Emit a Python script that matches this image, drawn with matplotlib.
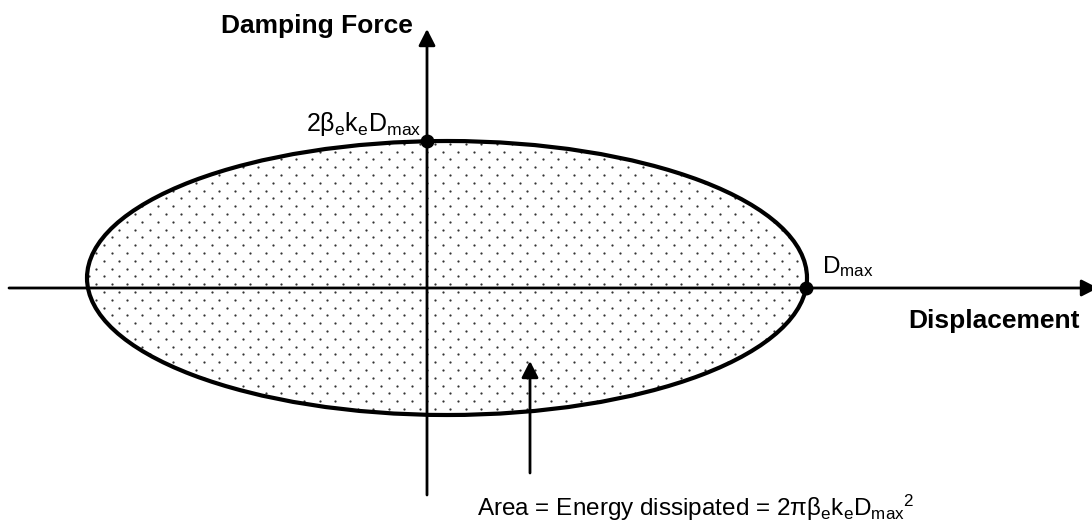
import numpy as np
import matplotlib
matplotlib.use("Agg")
import matplotlib.pyplot as plt
from matplotlib.patches import Ellipse

plt.rcParams['font.family'] = ['Liberation Sans', 'DejaVu Sans']
plt.rcParams['mathtext.fontset'] = 'custom'
plt.rcParams['mathtext.rm'] = 'Liberation Sans'
plt.rcParams['mathtext.it'] = 'Liberation Sans:italic'
plt.rcParams['mathtext.bf'] = 'Liberation Sans:bold'

# hysteresis loop (units: pixels of the original sketch, origin at the axes crossing)
loop_center = (20, 10)
loop_half_width = 360
loop_half_height = 137

# axis extents
x_axis = (-418, 671)
y_axis = (-207, 259)

# annotation arrow (tail, tip)
area_arrow_x = 103
area_arrow_y = (-185, -73)

# labels
y_label = "Damping Force"
x_label = "Displacement"
force_label = r"2β$_\mathregular{e}$k$_\mathregular{e}$D$_\mathregular{max}$"
dmax_label = r"D$_\mathregular{max}$"
area_label = (r"Area = Energy dissipated = 2πβ$_\mathregular{e}$k$_\mathregular{e}$"
              r"D$_\mathregular{max}$$^\mathregular{2}$")

# where the loop crosses the axes
cx, cy = loop_center
d_max = cx + loop_half_width * np.sqrt(1 - (cy / loop_half_height) ** 2)
f_top = cy + loop_half_height * np.sqrt(1 - (cx / loop_half_width) ** 2)

fig = plt.figure(figsize=(10.92, 5.25), dpi=100)
ax = fig.add_axes([0, 0, 1, 1])
ax.set_xlim(-427, 665)
ax.set_ylim(-237, 288)
ax.axis('off')

# dotted fill of the loop
fill = Ellipse(loop_center, 2 * loop_half_width, 2 * loop_half_height,
               facecolor='white', edgecolor='none', zorder=1)
ax.add_patch(fill)
gx = np.arange(-400, 420, 15.4)
gy = np.arange(-160, 170, 7.8)
px, py = [], []
for j, yy in enumerate(gy):
    shift = 7.7 if j % 2 else 0
    px.extend(gx + shift)
    py.extend([yy] * len(gx))
dots = ax.scatter(px, py, s=2.6, color='#333333', linewidths=0, zorder=2)
dots.set_clip_path(fill)

# axes with arrow heads
arrow_kw = dict(arrowstyle='-|>,head_length=0.55,head_width=0.28', color='black',
                lw=2.0, mutation_scale=18, shrinkA=0, shrinkB=0)
ax.annotate('', xy=(x_axis[1], 0), xytext=(x_axis[0], 0),
            arrowprops=arrow_kw, annotation_clip=False, zorder=3)
ax.annotate('', xy=(0, y_axis[1]), xytext=(0, y_axis[0]),
            arrowprops=arrow_kw, annotation_clip=False, zorder=3)
ax.annotate('', xy=(area_arrow_x, area_arrow_y[1]), xytext=(area_arrow_x, area_arrow_y[0]),
            arrowprops=arrow_kw, annotation_clip=False, zorder=3)

# loop outline
ax.add_patch(Ellipse(loop_center, 2 * loop_half_width, 2 * loop_half_height,
                     facecolor='none', edgecolor='black', lw=3.0, zorder=4))

ax.plot([d_max, 0], [0, f_top], 'o', color='black', markersize=9, zorder=5)

ax.text(-14, 255, y_label, fontsize=19, fontweight='bold', ha='right', va='baseline')
ax.text(481, -40, x_label, fontsize=19, fontweight='bold', ha='left', va='baseline')
ax.text(-6, 157, force_label, fontsize=18, ha='right', va='baseline')
ax.text(395, 15, dmax_label, fontsize=17.5, ha='left', va='baseline')
ax.text(50, -228, area_label, fontsize=17.5, ha='left', va='baseline')

fig.savefig('out.png', dpi=100)
